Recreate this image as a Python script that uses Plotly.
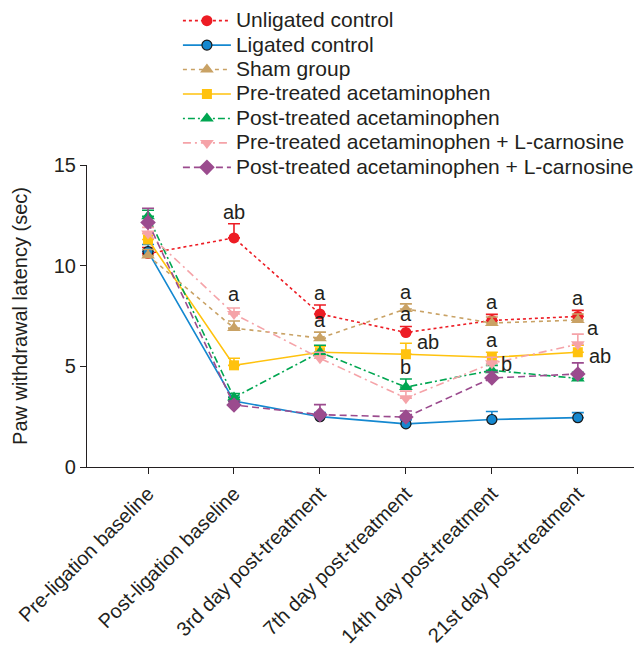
import plotly.graph_objects as go

categories = ["Pre-ligation baseline", "Post-ligation baseline", "3rd day post-treatment",
              "7th day post-treatment", "14th day post-treatment", "21st day post-treatment"]

series_names = ["Unligated control", "Ligated control", "Sham group", "Pre-treated acetaminophen",
                "Post-treated acetaminophen", "Pre-treated acetaminophen + L-carnosine",
                "Post-treated acetaminophen + L-carnosine"]

unligated = [10.6, 11.38, 7.6, 6.68, 7.28, 7.48]
unligated_sem = [0.3, 0.7, 0.45, 0.3, 0.3, 0.3]
ligated = [10.7, 3.28, 2.5, 2.14, 2.36, 2.45]
ligated_sem = [0.35, 0.2, 0.2, 0.2, 0.4, 0.25]
sham = [10.5, 6.9, 6.4, 7.85, 7.15, 7.3]
sham_sem = [0.3, 0.35, 0.3, 0.25, 0.3, 0.3]
pre_acet = [11.3, 5.05, 5.7, 5.6, 5.45, 5.7]
pre_acet_sem = [0.3, 0.35, 0.3, 0.55, 0.25, 0.35]
post_acet = [12.45, 3.45, 5.7, 3.97, 4.8, 4.4]
post_acet_sem = [0.3, 0.2, 0.35, 0.4, 0.25, 0.3]
pre_acet_car = [11.6, 7.6, 5.4, 3.42, 5.15, 6.1]
pre_acet_car_sem = [0.3, 0.3, 0.3, 0.35, 0.3, 0.5]
post_acet_car = [12.15, 3.08, 2.6, 2.48, 4.42, 4.62]
post_acet_car_sem = [0.7, 0.2, 0.5, 0.3, 0.3, 0.55]

values = [unligated, ligated, sham, pre_acet, post_acet, pre_acet_car, post_acet_car]
sems = [unligated_sem, ligated_sem, sham_sem, pre_acet_sem, post_acet_sem, pre_acet_car_sem, post_acet_car_sem]

colors = ["#ed1c24", "#1488d0", "#c9a265", "#ffc20e", "#00a651", "#f5a3a8", "#9b4b8e"]
symbols = ["circle", "circle", "triangle-up", "square", "triangle-up", "triangle-down", "diamond"]
dashes = ["dot", "solid", "4px,4px", "solid", "2px,3px,7px,3px", "8px,4px,2px,4px", "7px,4px"]
msizes = [11, 10, 12, 10, 12, 12, 12]

# significance letters: (category index, series index, letter, placement, xshift, yshift)
letters = [
    (1, 0, "ab", "above", 0, 0), (1, 5, "a", "above", 0, 2),
    (2, 0, "a", "above", 0, 0), (2, 2, "a", "above", 0, 0),
    (3, 2, "a", "above", 0, 0), (3, 0, "a", "above", 0, 0),
    (3, 3, "ab", "right", 9, 12), (3, 4, "b", "above", 0, 0),
    (4, 0, "a", "above", 0, 0), (4, 3, "a", "above", 0, 0), (4, 4, "b", "right", 7, 6),
    (5, 0, "a", "above", 0, 0), (5, 5, "a", "right", 7, 16), (5, 3, "ab", "right", 9, -4),
]

TXT = "#231f20"
FONT = "Liberation Sans, Arial, sans-serif"
FS = 20

xs = list(range(len(categories)))
fig = go.Figure()
for i, name in enumerate(series_names):
    fig.add_trace(go.Scatter(
        x=xs, y=values[i], name='<span style="font-size:21px">' + name + '</span>',
        mode="lines+markers",
        line=dict(color=colors[i], width=1.6, dash=dashes[i]),
        marker=dict(symbol=symbols[i], size=msizes[i], color=colors[i],
                    line=dict(color="#1a1a1a" if i == 1 else colors[i], width=1.2 if i == 1 else 0)),
        error_y=dict(type="data", symmetric=False, array=sems[i], arrayminus=[0] * len(xs),
                     color=colors[i], thickness=1.6, width=6),
    ))

for (ci, si, txt, place, dx, dy) in letters:
    v = values[si][ci]
    if place == "above":
        fig.add_annotation(x=ci, y=v + sems[si][ci], text=txt, showarrow=False,
                           yanchor="bottom", xanchor="center", xshift=dx, yshift=dy - 1,
                           font=dict(size=FS, color=TXT, family=FONT))
    else:
        fig.add_annotation(x=ci, y=v, text=txt, showarrow=False,
                           yanchor="middle", xanchor="left", xshift=dx, yshift=dy,
                           font=dict(size=FS, color=TXT, family=FONT))

fig.update_layout(
    width=642, height=648,
    margin=dict(l=79, r=12, t=157, b=189, autoexpand=False),
    paper_bgcolor="white", plot_bgcolor="white",
    font=dict(family=FONT, size=FS, color=TXT),
    showlegend=True,
    legend=dict(x=0.165, y=1.535, xanchor="left", yanchor="top", bgcolor="rgba(0,0,0,0)",
                font=dict(size=16.5, color=TXT, family=FONT), tracegroupgap=0, itemwidth=48),
    xaxis=dict(range=[-0.71, 5.70], tickmode="array", tickvals=xs + [5.70], ticktext=categories + [""],
               tickangle=-45, showline=True, linecolor=TXT, linewidth=1.2, ticks="outside",
               ticklen=6, tickcolor=TXT, showgrid=False, zeroline=False,
               tickfont=dict(size=FS, color=TXT)),
    yaxis=dict(range=[0, 15], tickvals=[0, 5, 10, 15], showline=True, linecolor=TXT, linewidth=1.2,
               ticks="outside", ticklen=6, tickcolor=TXT, showgrid=False, zeroline=False,
               title=dict(text="Paw withdrawal latency (sec)", font=dict(size=FS, color=TXT), standoff=20),
               tickfont=dict(size=FS, color=TXT)),
)

fig.write_html("out.html")
